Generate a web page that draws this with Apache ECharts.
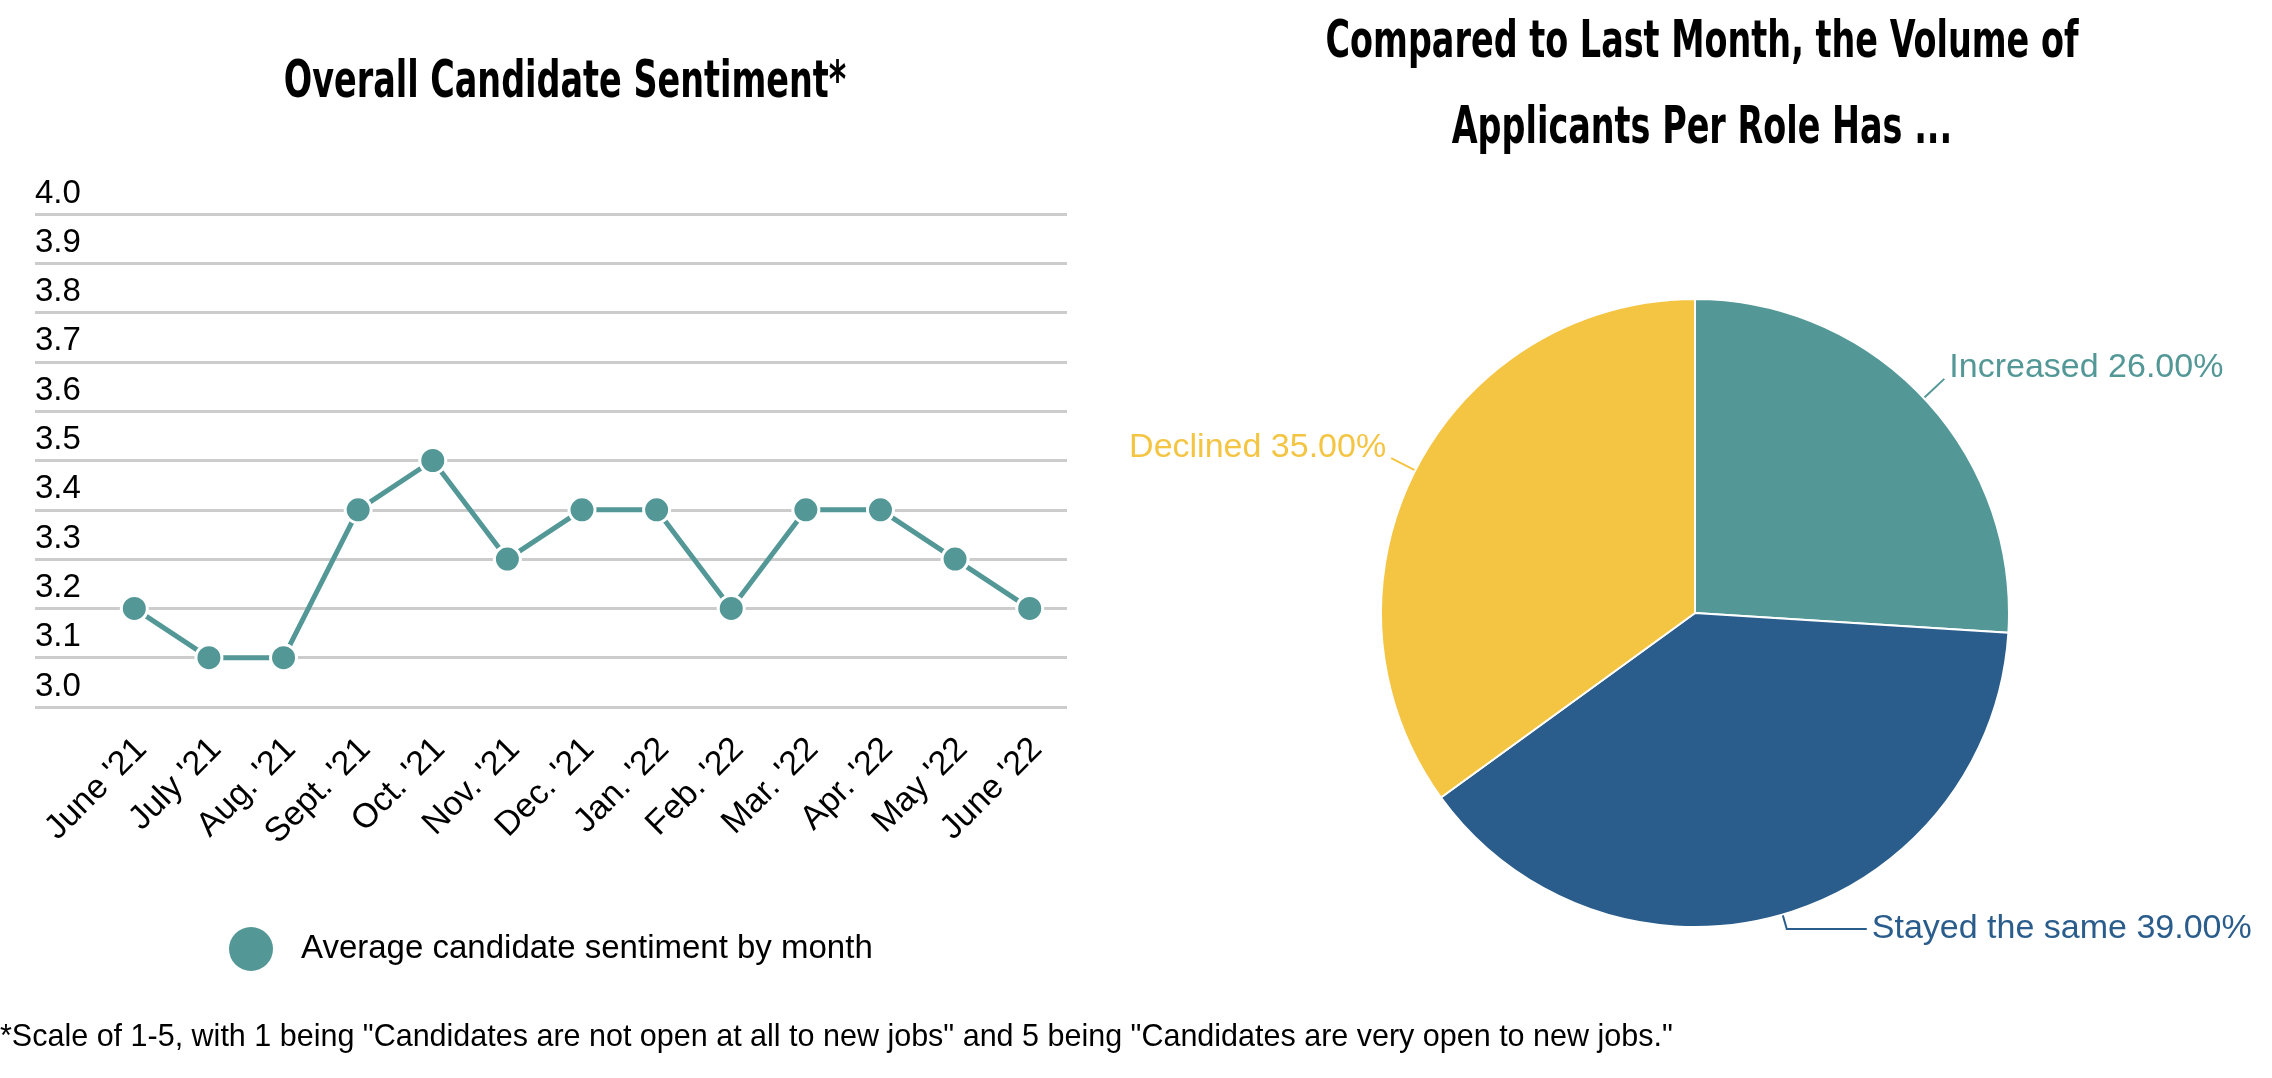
<!DOCTYPE html>
<html><head><meta charset="utf-8">
<script src="https://cdn.jsdelivr.net/npm/echarts@6/dist/echarts.min.js"></script>
<style>html,body{margin:0;padding:0;background:#fff}#c{width:2272px;height:1078px}</style>
</head><body><div id="c"></div>
<script>
const months = ["June '21","July '21","Aug. '21","Sept. '21","Oct. '21","Nov. '21","Dec. '21","Jan. '22","Feb. '22","Mar. '22","Apr. '22","May '22","June '22"];
const sentiment = [3.2,3.1,3.1,3.4,3.5,3.3,3.4,3.4,3.2,3.4,3.4,3.3,3.2];
const yMin = 3.0, yMax = 4.0, yStep = 0.1;
const pieNames = ['Increased','Stayed the same','Declined'];
const pieValues = [26,39,35];
const pieColors = ['#539897','#2a5d8c','#f4c443'];
const lineLen = [[28,0],[15,80],[27,0]];
const labelShift = [-11,0,-11];

const REG = '"Liberation Sans", Arial, sans-serif';
const TFONT = 'bold 52px "DejaVu Sans Condensed", "DejaVu Sans", sans-serif';
const teal = '#539897';

const chart = echarts.init(document.getElementById('c'), null, {renderer:'canvas'});
const option = {
  backgroundColor:'#fff',
  animation:false,
  legend:{
    data:[{name:'Average candidate sentiment by month', icon:'circle'}],
    left:224, top:922, itemWidth:44, itemHeight:44,
    itemStyle:{borderWidth:0},
    textStyle:{fontFamily:REG, fontSize:33, color:'#000', padding:[0,0,0,23]}
  },
  grid:[
    {left:35, right:1205, top:214, bottom:371},
    {left:97, right:1205, top:214, bottom:371}
  ],
  xAxis:[
    {gridIndex:0, type:'value', min:0, max:1, show:false},
    {gridIndex:1, type:'category', data:months, boundaryGap:true,
     axisLine:{show:false}, axisTick:{show:false},
     axisLabel:{interval:0, rotate:45, margin:44, padding:[0,-10,0,0], fontFamily:REG, fontSize:34, color:'#000'}}
  ],
  yAxis:[
    {gridIndex:0, type:'value', min:yMin, max:yMax, interval:yStep,
     axisLine:{show:false}, axisTick:{show:false},
     splitLine:{show:true, lineStyle:{color:'#cccccc', width:3}},
     axisLabel:{inside:true, margin:0, align:'left', verticalAlign:'bottom', padding:[0,0,4,0],
       fontFamily:REG, fontSize:33, color:'#000', formatter:v=>v.toFixed(1)}},
    {gridIndex:1, type:'value', min:yMin, max:yMax, interval:yStep, show:false, splitLine:{show:false}}
  ],
  series:[
    {name:'Average candidate sentiment by month', type:'line', xAxisIndex:1, yAxisIndex:1,
     data:sentiment, symbol:'circle', symbolSize:26,
     lineStyle:{color:teal, width:5},
     itemStyle:{color:teal, borderColor:'#fff', borderWidth:3},
     z:3},
    {type:'pie', center:[1695,613], radius:314, startAngle:90, clockwise:true,
     avoidLabelOverlap:false,
     itemStyle:{borderColor:'#fff', borderWidth:2},
     label:{show:true, position:'outside', fontFamily:REG, fontSize:34,
       formatter:p=>p.name+' '+p.percent.toFixed(2)+'%'},
     labelLine:{show:true, smooth:false, lineStyle:{width:2}},
     labelLayout:p=>({dy:labelShift[p.dataIndex]}),
     emphasis:{disabled:true},
     data:pieNames.map((n,i)=>({name:n, value:pieValues[i],
       itemStyle:{color:pieColors[i]},
       label:{color:pieColors[i]},
       labelLine:{length:lineLen[i][0], length2:lineLen[i][1], lineStyle:{color:pieColors[i]}}}))
    }
  ],
  graphic:[
    {type:'text', x:565, y:83, scaleX:0.715, style:{text:'Overall Candidate Sentiment*', font:TFONT, fill:'#000', textAlign:'center', textVerticalAlign:'middle'}},
    {type:'text', x:1702, y:43, scaleX:0.715, style:{text:'Compared to Last Month, the Volume of', font:TFONT, fill:'#000', textAlign:'center', textVerticalAlign:'middle'}},
    {type:'text', x:1702, y:129, scaleX:0.715, style:{text:'Applicants Per Role Has ...', font:TFONT, fill:'#000', textAlign:'center', textVerticalAlign:'middle'}},
    {type:'text', left:0, top:1022, style:{text:'*Scale of 1-5, with 1 being "Candidates are not open at all to new jobs" and 5 being "Candidates are very open to new jobs."',
      font:'30.5px "Liberation Sans", Arial, sans-serif', fill:'#000'}}
  ]
};
chart.setOption(option);
</script></body></html>
